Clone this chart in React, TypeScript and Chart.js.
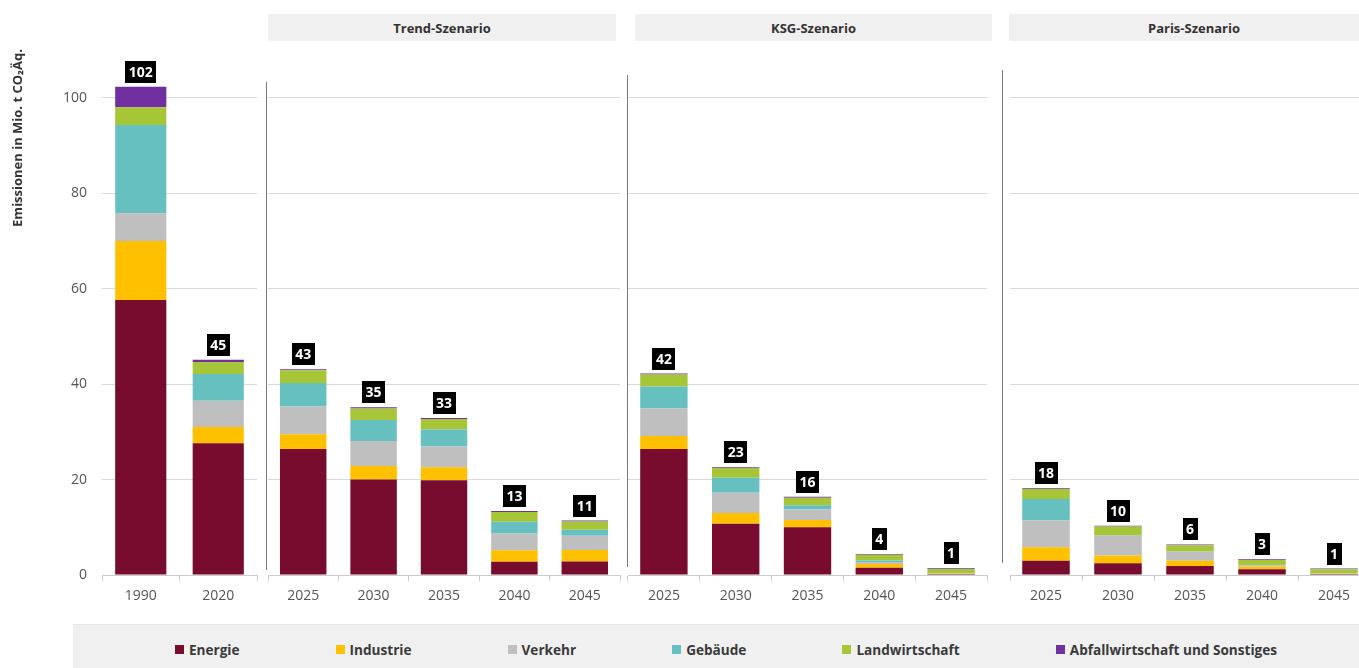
import React, { useEffect, useRef } from "react";
import { Chart, registerables } from "chart.js";
Chart.register(...registerables);

const FONT = "'Open Sans', sans-serif";
Chart.defaults.font.family = FONT;

const seriesNames = ["Energie", "Industrie", "Verkehr", "Gebäude", "Landwirtschaft", "Abfallwirtschaft und Sonstiges"];
const seriesColors = ["#770C2E", "#FFC000", "#BFBFBF", "#66C0C0", "#A6C638", "#7030A0"];
const histYears = ["1990", "2020"];
const scenarioYears = ["2025", "2030", "2035", "2040", "2045"];
const scenarioTitles = ["Trend-Szenario", "KSG-Szenario", "Paris-Szenario"];
const yTitle = "Emissionen in Mio. t CO₂Äq.";

// order: 1990, 2020 | Trend 2025..2045 | KSG 2025..2045 | Paris 2025..2045
const energie = [57.6, 27.6, 26.4, 20.0, 19.85, 2.8, 2.85, 26.4, 10.75, 10.0, 1.5, 0.2, 3.0, 2.45, 1.9, 1.2, 0.2];
const industrie = [12.4, 3.4, 3.1, 2.85, 2.75, 2.4, 2.4, 2.7, 2.25, 1.5, 0.8, 0.05, 2.8, 1.65, 1.1, 0.55, 0.05];
const verkehr = [5.8, 5.5, 5.8, 5.25, 4.3, 3.5, 2.95, 5.8, 4.25, 2.2, 0.45, 0.05, 5.6, 4.15, 1.9, 0.3, 0.03];
const gebaeude = [18.5, 5.6, 4.95, 4.4, 3.6, 2.45, 1.3, 4.6, 3.15, 0.9, 0.3, 0.02, 4.5, 0.05, 0.05, 0.05, 0.02];
const landwirtschaft = [3.7, 2.55, 2.65, 2.4, 2.2, 2.05, 1.7, 2.5, 2.0, 1.6, 1.2, 0.95, 2.1, 1.85, 1.3, 1.05, 0.9];
const abfall = [4.3, 0.45, 0.2, 0.25, 0.2, 0.2, 0.2, 0.2, 0.2, 0.2, 0.15, 0.15, 0.2, 0.15, 0.15, 0.15, 0.15];
const seriesData = [energie, industrie, verkehr, gebaeude, landwirtschaft, abfall];

const Y_MAX = 110;
const CANVAS_H = 620;

type PanelSpec = {
  left: number; width: number; padL: number; padR: number;
  start: number; labels: string[]; yAxis: boolean;
  sep?: { x: number; top: number; bottom: number };
};

const panels: PanelSpec[] = [
  { left: 0, width: 265, padL: 0, padR: 8, start: 0, labels: histYears, yAxis: true },
  { left: 260, width: 366, padL: 8, padR: 6, start: 2, labels: scenarioYears, yAxis: false, sep: { x: 6, top: 82, bottom: 570 } },
  { left: 621, width: 371, padL: 7, padR: 5, start: 7, labels: scenarioYears, yAxis: false, sep: { x: 6, top: 75, bottom: 567 } },
  { left: 996, width: 380, padL: 14, padR: 6, start: 12, labels: scenarioYears, yAxis: false, sep: { x: 6, top: 70, bottom: 563 } },
];

const headers = [
  { left: 268, width: 348 },
  { left: 635, width: 357 },
  { left: 1009, width: 370 },
];

const totalsPlugin = {
  id: "totals",
  afterDatasetsDraw(chart: any) {
    const ctx = chart.ctx;
    const n = chart.data.labels.length;
    const ys = chart.scales.y;
    const xs = chart.scales.x;
    ctx.save();
    ctx.font = `bold 14px ${FONT}`;
    for (let i = 0; i < n; i++) {
      let total = 0;
      chart.data.datasets.forEach((ds: any) => (total += ds.data[i]));
      const txt = String(Math.round(total));
      const px = xs.getPixelForValue(i);
      const py = ys.getPixelForValue(total);
      const tw = ctx.measureText(txt).width;
      const w = Math.round(tw + 7);
      const h = 22;
      const bx = Math.round(px - w / 2);
      const by = Math.round(py - 4 - h);
      ctx.fillStyle = "#000";
      ctx.fillRect(bx, by, w, h);
      ctx.fillStyle = "#fff";
      ctx.textAlign = "center";
      ctx.textBaseline = "middle";
      ctx.fillText(txt, px, by + h / 2 + 1);
    }
    ctx.restore();
  },
};

const sepPlugin = {
  id: "sep",
  afterDraw(chart: any, _args: any, opts: any) {
    if (!opts || opts.x === undefined) return;
    const ctx = chart.ctx;
    ctx.save();
    ctx.strokeStyle = "#7a7a7a";
    ctx.lineWidth = 1;
    ctx.beginPath();
    ctx.moveTo(opts.x + 0.5, opts.top);
    ctx.lineTo(opts.x + 0.5, opts.bottom);
    ctx.stroke();
    ctx.restore();
  },
};

const yTitlePlugin = {
  id: "ytitle",
  afterDraw(chart: any, _args: any, opts: any) {
    if (!opts || !opts.show) return;
    const ctx = chart.ctx;
    ctx.save();
    ctx.translate(18, 138);
    ctx.rotate(-Math.PI / 2);
    ctx.font = `bold 13px ${FONT}`;
    ctx.fillStyle = "#333";
    ctx.textAlign = "center";
    ctx.textBaseline = "middle";
    ctx.fillText(yTitle, 0, 0);
    ctx.restore();
  },
};

function Panel({ spec }: { spec: PanelSpec }) {
  const ref = useRef<HTMLCanvasElement>(null);
  useEffect(() => {
    const n = spec.labels.length;
    const datasets = seriesNames.map((name, s) => ({
      label: name,
      data: seriesData[s].slice(spec.start, spec.start + n),
      backgroundColor: seriesColors[s],
      borderWidth: 0,
      barPercentage: 0.66,
      categoryPercentage: 1,
      stack: "a",
    }));
    const chart = new Chart(ref.current as HTMLCanvasElement, {
      type: "bar",
      data: { labels: spec.labels, datasets },
      plugins: [totalsPlugin, sepPlugin, yTitlePlugin],
      options: {
        animation: false,
        responsive: false,
        maintainAspectRatio: false,
        layout: { padding: { top: 50, left: spec.padL, right: spec.padR, bottom: 0 } },
        plugins: {
          legend: { display: false },
          tooltip: { enabled: false },
          sep: spec.sep || {},
          ytitle: { show: spec.yAxis },
        } as any,
        scales: {
          x: {
            stacked: true,
            grid: { display: true, drawOnChartArea: false, drawTicks: true, tickLength: 6, color: "#cccccc" },
            border: { display: true, color: "#cccccc" },
            ticks: { color: "#555", font: { size: 14, family: FONT }, padding: 7 },
            afterFit: (scale: any) => { scale.height = 45; },
          },
          y: {
            stacked: true,
            min: 0,
            max: Y_MAX,
            grid: { color: "#d9d9d9", drawTicks: false },
            border: { display: false },
            ticks: {
              display: spec.yAxis,
              stepSize: 20,
              includeBounds: false,
              color: "#555",
              padding: 15,
              font: { size: 14, family: FONT },
            },
            afterFit: (scale: any) => { scale.width = spec.yAxis ? 102 : 0; },
          },
        },
      } as any,
    });
    return () => chart.destroy();
  }, []);
  return (
    <canvas
      ref={ref}
      width={spec.width}
      height={CANVAS_H}
      style={{ position: "absolute", left: spec.left, top: 0, width: spec.width, height: CANVAS_H }}
    />
  );
}

export default function App() {
  return (
    <div
      style={{
        position: "fixed", left: 0, top: 0, width: 1359, height: 668, overflow: "hidden",
        background: "#fff", fontFamily: FONT,
      }}
    >
      {panels.map((p, i) => <Panel key={i} spec={p} />)}
      {headers.map((h, i) => (
        <div
          key={i}
          style={{
            position: "absolute", left: h.left, top: 14, width: h.width, height: 27,
            background: "#f0f0f0", color: "#333", fontWeight: 700, fontSize: 13,
            display: "flex", alignItems: "center", justifyContent: "center",
          }}
        >
          {scenarioTitles[i]}
        </div>
      ))}
      <div
        style={{
          position: "absolute", left: 73, top: 624, width: 1306, height: 44,
          background: "#f0f0f0", borderTop: "1px solid #e4e4e4", boxSizing: "border-box",
          display: "flex", alignItems: "center", justifyContent: "center", gap: 96,
          paddingTop: 5,
        }}
      >
        {seriesNames.map((name, i) => (
          <div key={i} style={{ display: "flex", alignItems: "center", color: "#3a3a3a", fontWeight: 700, fontSize: 13.6 }}>
            <span style={{ display: "inline-block", width: 9, height: 9, background: seriesColors[i], marginRight: 5 }} />
            {name}
          </div>
        ))}
      </div>
    </div>
  );
}
